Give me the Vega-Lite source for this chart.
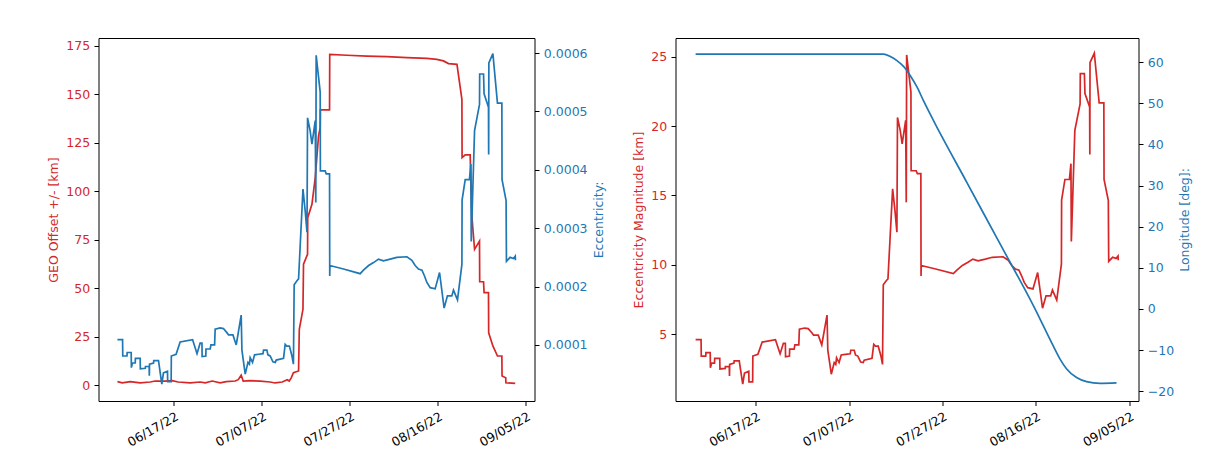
{
  "$schema": "https://vega.github.io/schema/vega-lite/v6.json",
  "background": "white",
  "padding": {"left": 46.5, "top": 37, "right": 5, "bottom": 5},
  "bounds": "flush",
  "spacing": 141,
  "config": {
    "view": {"stroke": "black", "strokeWidth": 1},
    "axis": {
      "grid": false,
      "domain": false,
      "tickColor": "black",
      "tickSize": 4.5,
      "labelPadding": 4.3,
      "labelFont": "DejaVu Sans",
      "labelFontSize": 12.5,
      "labelColor": "black",
      "titleFont": "DejaVu Sans",
      "titleFontSize": 12.5,
      "titleFontWeight": "normal",
      "titlePadding": 5
    }
  },
  "datasets": {
    "ecc": [
      {"t": "2022-06-04T04:00", "ecc": 0.000109, "mag": 4.60},
      {"t": "2022-06-05T08:00", "ecc": 0.000109, "mag": 4.60},
      {"t": "2022-06-05T09:00", "ecc": 0.000081, "mag": 3.42},
      {"t": "2022-06-06T08:00", "ecc": 0.000081, "mag": 3.42},
      {"t": "2022-06-06T09:00", "ecc": 0.000087, "mag": 3.67},
      {"t": "2022-06-07T07:00", "ecc": 0.000087, "mag": 3.67},
      {"t": "2022-06-07T08:00", "ecc": 0.000061, "mag": 2.57},
      {"t": "2022-06-07T14:00", "ecc": 0.000069, "mag": 2.91},
      {"t": "2022-06-08T05:00", "ecc": 0.000069, "mag": 2.91},
      {"t": "2022-06-08T06:00", "ecc": 0.000077, "mag": 3.25},
      {"t": "2022-06-09T08:00", "ecc": 0.000077, "mag": 3.25},
      {"t": "2022-06-09T09:00", "ecc": 0.000059, "mag": 2.49},
      {"t": "2022-06-10T12:00", "ecc": 0.000060, "mag": 2.53},
      {"t": "2022-06-10T13:00", "ecc": 0.000063, "mag": 2.66},
      {"t": "2022-06-11T09:00", "ecc": 0.000063, "mag": 2.66},
      {"t": "2022-06-11T10:00", "ecc": 0.000047, "mag": 1.98},
      {"t": "2022-06-11T11:00", "ecc": 0.000067, "mag": 2.82},
      {"t": "2022-06-12T09:00", "ecc": 0.000069, "mag": 2.91},
      {"t": "2022-06-12T10:00", "ecc": 0.000073, "mag": 3.08},
      {"t": "2022-06-13T12:00", "ecc": 0.000073, "mag": 3.08},
      {"t": "2022-06-14T06:00", "ecc": 0.000033, "mag": 1.39},
      {"t": "2022-06-14T15:00", "ecc": 0.000052, "mag": 2.19},
      {"t": "2022-06-15T13:00", "ecc": 0.000055, "mag": 2.32},
      {"t": "2022-06-15T14:00", "ecc": 0.000037, "mag": 1.56},
      {"t": "2022-06-16T09:00", "ecc": 0.000037, "mag": 1.56},
      {"t": "2022-06-16T10:00", "ecc": 0.000081, "mag": 3.42},
      {"t": "2022-06-17T12:00", "ecc": 0.000084, "mag": 3.54},
      {"t": "2022-06-18T10:00", "ecc": 0.000105, "mag": 4.43},
      {"t": "2022-06-21T06:00", "ecc": 0.000109, "mag": 4.60},
      {"t": "2022-06-22T06:00", "ecc": 0.000085, "mag": 3.58},
      {"t": "2022-06-22T23:00", "ecc": 0.000103, "mag": 4.34},
      {"t": "2022-06-23T09:00", "ecc": 0.000103, "mag": 4.34},
      {"t": "2022-06-23T10:00", "ecc": 0.000080, "mag": 3.37},
      {"t": "2022-06-24T06:00", "ecc": 0.000081, "mag": 3.42},
      {"t": "2022-06-24T07:00", "ecc": 0.000093, "mag": 3.92},
      {"t": "2022-06-25T06:00", "ecc": 0.000093, "mag": 3.92},
      {"t": "2022-06-25T10:00", "ecc": 0.000100, "mag": 4.22},
      {"t": "2022-06-26T06:00", "ecc": 0.000100, "mag": 4.22},
      {"t": "2022-06-26T09:00", "ecc": 0.000127, "mag": 5.35},
      {"t": "2022-06-27T12:00", "ecc": 0.000129, "mag": 5.44},
      {"t": "2022-06-28T06:00", "ecc": 0.000128, "mag": 5.40},
      {"t": "2022-06-29T01:00", "ecc": 0.000121, "mag": 5.10},
      {"t": "2022-06-29T10:00", "ecc": 0.000117, "mag": 4.93},
      {"t": "2022-06-30T10:00", "ecc": 0.000117, "mag": 4.93},
      {"t": "2022-07-01T04:00", "ecc": 0.000100, "mag": 4.22},
      {"t": "2022-07-02T07:00", "ecc": 0.000151, "mag": 6.37},
      {"t": "2022-07-02T11:00", "ecc": 0.000091, "mag": 3.84},
      {"t": "2022-07-03T05:00", "ecc": 0.000050, "mag": 2.11},
      {"t": "2022-07-03T20:00", "ecc": 0.000070, "mag": 2.95},
      {"t": "2022-07-04T04:00", "ecc": 0.000067, "mag": 2.82},
      {"t": "2022-07-04T08:00", "ecc": 0.000078, "mag": 3.29},
      {"t": "2022-07-04T21:00", "ecc": 0.000070, "mag": 2.95},
      {"t": "2022-07-05T08:00", "ecc": 0.000083, "mag": 3.50},
      {"t": "2022-07-06T06:00", "ecc": 0.000084, "mag": 3.54},
      {"t": "2022-07-07T06:00", "ecc": 0.000085, "mag": 3.58},
      {"t": "2022-07-07T09:00", "ecc": 0.000091, "mag": 3.84},
      {"t": "2022-07-08T03:00", "ecc": 0.000091, "mag": 3.84},
      {"t": "2022-07-08T09:00", "ecc": 0.000083, "mag": 3.50},
      {"t": "2022-07-08T21:00", "ecc": 0.000081, "mag": 3.42},
      {"t": "2022-07-09T12:00", "ecc": 0.000071, "mag": 2.99},
      {"t": "2022-07-10T01:00", "ecc": 0.000070, "mag": 2.95},
      {"t": "2022-07-10T06:00", "ecc": 0.000074, "mag": 3.12},
      {"t": "2022-07-11T22:00", "ecc": 0.000077, "mag": 3.25},
      {"t": "2022-07-12T07:00", "ecc": 0.000101, "mag": 4.26},
      {"t": "2022-07-12T16:00", "ecc": 0.000098, "mag": 4.13},
      {"t": "2022-07-13T06:00", "ecc": 0.000098, "mag": 4.13},
      {"t": "2022-07-13T20:00", "ecc": 0.000081, "mag": 3.42},
      {"t": "2022-07-14T04:00", "ecc": 0.000067, "mag": 2.82},
      {"t": "2022-07-14T08:00", "ecc": 0.000203, "mag": 8.56},
      {"t": "2022-07-14T23:00", "ecc": 0.000210, "mag": 8.85},
      {"t": "2022-07-15T08:00", "ecc": 0.000213, "mag": 8.98},
      {"t": "2022-07-16T08:00", "ecc": 0.000367, "mag": 15.47},
      {"t": "2022-07-16T20:00", "ecc": 0.000330, "mag": 13.91},
      {"t": "2022-07-17T06:00", "ecc": 0.000293, "mag": 12.35},
      {"t": "2022-07-17T09:00", "ecc": 0.000489, "mag": 20.62},
      {"t": "2022-07-17T23:00", "ecc": 0.000467, "mag": 19.69},
      {"t": "2022-07-18T09:00", "ecc": 0.000444, "mag": 18.72},
      {"t": "2022-07-19T03:00", "ecc": 0.000484, "mag": 20.41},
      {"t": "2022-07-19T06:00", "ecc": 0.000344, "mag": 14.50},
      {"t": "2022-07-19T08:00", "ecc": 0.000596, "mag": 25.13},
      {"t": "2022-07-20T06:00", "ecc": 0.000533, "mag": 22.47},
      {"t": "2022-07-20T07:00", "ecc": 0.000398, "mag": 16.78},
      {"t": "2022-07-21T09:00", "ecc": 0.000398, "mag": 16.78},
      {"t": "2022-07-21T15:00", "ecc": 0.000393, "mag": 16.57},
      {"t": "2022-07-22T09:00", "ecc": 0.000393, "mag": 16.57},
      {"t": "2022-07-22T10:00", "ecc": 0.000218, "mag": 9.19},
      {"t": "2022-07-22T11:00", "ecc": 0.000236, "mag": 9.95},
      {"t": "2022-07-25T13:00", "ecc": 0.000230, "mag": 9.70},
      {"t": "2022-07-29T08:00", "ecc": 0.000222, "mag": 9.36},
      {"t": "2022-07-30T02:00", "ecc": 0.000228, "mag": 9.61},
      {"t": "2022-07-31T06:00", "ecc": 0.000236, "mag": 9.95},
      {"t": "2022-08-01T09:00", "ecc": 0.000241, "mag": 10.16},
      {"t": "2022-08-02T12:00", "ecc": 0.000247, "mag": 10.41},
      {"t": "2022-08-03T15:00", "ecc": 0.000244, "mag": 10.29},
      {"t": "2022-08-05T04:00", "ecc": 0.000247, "mag": 10.41},
      {"t": "2022-08-06T16:00", "ecc": 0.000250, "mag": 10.54},
      {"t": "2022-08-08T23:00", "ecc": 0.000251, "mag": 10.58},
      {"t": "2022-08-10T02:00", "ecc": 0.000245, "mag": 10.33},
      {"t": "2022-08-10T20:00", "ecc": 0.000236, "mag": 9.95},
      {"t": "2022-08-11T14:00", "ecc": 0.000230, "mag": 9.70},
      {"t": "2022-08-12T09:00", "ecc": 0.000228, "mag": 9.61},
      {"t": "2022-08-12T23:00", "ecc": 0.000218, "mag": 9.19},
      {"t": "2022-08-13T12:00", "ecc": 0.000207, "mag": 8.73},
      {"t": "2022-08-14T06:00", "ecc": 0.000198, "mag": 8.35},
      {"t": "2022-08-15T09:00", "ecc": 0.000196, "mag": 8.26},
      {"t": "2022-08-16T09:00", "ecc": 0.000224, "mag": 9.44},
      {"t": "2022-08-17T10:00", "ecc": 0.000163, "mag": 6.87},
      {"t": "2022-08-18T04:00", "ecc": 0.000184, "mag": 7.76},
      {"t": "2022-08-19T04:00", "ecc": 0.000184, "mag": 7.76},
      {"t": "2022-08-19T13:00", "ecc": 0.000194, "mag": 8.18},
      {"t": "2022-08-19T22:00", "ecc": 0.000187, "mag": 7.88},
      {"t": "2022-08-20T11:00", "ecc": 0.000177, "mag": 7.46},
      {"t": "2022-08-21T11:00", "ecc": 0.000238, "mag": 10.04},
      {"t": "2022-08-21T12:00", "ecc": 0.000348, "mag": 14.67},
      {"t": "2022-08-22T05:00", "ecc": 0.000383, "mag": 16.15},
      {"t": "2022-08-23T04:00", "ecc": 0.000383, "mag": 16.15},
      {"t": "2022-08-23T12:00", "ecc": 0.000410, "mag": 17.29},
      {"t": "2022-08-23T14:00", "ecc": 0.000277, "mag": 11.68},
      {"t": "2022-08-24T08:00", "ecc": 0.000467, "mag": 19.69},
      {"t": "2022-08-25T11:00", "ecc": 0.000512, "mag": 21.59},
      {"t": "2022-08-25T12:00", "ecc": 0.000564, "mag": 23.78},
      {"t": "2022-08-26T09:00", "ecc": 0.000564, "mag": 23.78},
      {"t": "2022-08-26T12:00", "ecc": 0.000530, "mag": 22.35},
      {"t": "2022-08-27T12:00", "ecc": 0.000507, "mag": 21.38},
      {"t": "2022-08-27T13:00", "ecc": 0.000426, "mag": 17.96},
      {"t": "2022-08-27T14:00", "ecc": 0.000583, "mag": 24.58},
      {"t": "2022-08-28T12:00", "ecc": 0.000599, "mag": 25.26},
      {"t": "2022-08-29T13:00", "ecc": 0.000514, "mag": 21.67},
      {"t": "2022-08-30T13:00", "ecc": 0.000514, "mag": 21.67},
      {"t": "2022-08-30T14:00", "ecc": 0.000383, "mag": 16.15},
      {"t": "2022-08-31T12:00", "ecc": 0.000347, "mag": 14.63},
      {"t": "2022-08-31T14:00", "ecc": 0.000243, "mag": 10.25},
      {"t": "2022-09-01T10:00", "ecc": 0.000250, "mag": 10.54},
      {"t": "2022-09-02T04:00", "ecc": 0.000248, "mag": 10.46},
      {"t": "2022-09-02T14:00", "ecc": 0.000252, "mag": 10.63},
      {"t": "2022-09-02T15:00", "ecc": 0.000245, "mag": 10.33}
    ],
    "geo": [
      {"t": "2022-06-04T04:00", "offset": 1.9},
      {"t": "2022-06-05T06:00", "offset": 1.3},
      {"t": "2022-06-07T02:00", "offset": 1.9},
      {"t": "2022-06-09T08:00", "offset": 1.3},
      {"t": "2022-06-11T15:00", "offset": 1.7},
      {"t": "2022-06-12T18:00", "offset": 2.2},
      {"t": "2022-06-15T00:00", "offset": 2.1},
      {"t": "2022-06-16T15:00", "offset": 2.4},
      {"t": "2022-06-17T23:00", "offset": 1.7},
      {"t": "2022-06-20T17:00", "offset": 1.2},
      {"t": "2022-06-22T23:00", "offset": 1.7},
      {"t": "2022-06-24T03:00", "offset": 1.3},
      {"t": "2022-06-25T17:00", "offset": 2.2},
      {"t": "2022-06-27T12:00", "offset": 1.3},
      {"t": "2022-06-28T21:00", "offset": 1.9},
      {"t": "2022-06-30T22:00", "offset": 2.2},
      {"t": "2022-07-01T15:00", "offset": 2.9},
      {"t": "2022-07-02T07:00", "offset": 5.2},
      {"t": "2022-07-02T18:00", "offset": 2.2},
      {"t": "2022-07-04T08:00", "offset": 2.4},
      {"t": "2022-07-06T15:00", "offset": 2.1},
      {"t": "2022-07-08T21:00", "offset": 1.7},
      {"t": "2022-07-10T00:00", "offset": 1.2},
      {"t": "2022-07-11T15:00", "offset": 1.7},
      {"t": "2022-07-12T18:00", "offset": 2.9},
      {"t": "2022-07-13T05:00", "offset": 2.2},
      {"t": "2022-07-13T16:00", "offset": 3.8},
      {"t": "2022-07-14T04:00", "offset": 6.5},
      {"t": "2022-07-15T08:00", "offset": 7.4},
      {"t": "2022-07-15T12:00", "offset": 28.9},
      {"t": "2022-07-16T08:00", "offset": 39.2},
      {"t": "2022-07-16T11:00", "offset": 62.4},
      {"t": "2022-07-17T09:00", "offset": 67.6},
      {"t": "2022-07-17T10:00", "offset": 86.4},
      {"t": "2022-07-18T09:00", "offset": 93.3},
      {"t": "2022-07-19T03:00", "offset": 107.1},
      {"t": "2022-07-19T21:00", "offset": 128.6},
      {"t": "2022-07-20T06:00", "offset": 132.9},
      {"t": "2022-07-20T07:00", "offset": 142.0},
      {"t": "2022-07-22T09:00", "offset": 142.0},
      {"t": "2022-07-22T10:00", "offset": 170.7},
      {"t": "2022-07-26T08:00", "offset": 170.2},
      {"t": "2022-07-30T21:00", "offset": 169.8},
      {"t": "2022-08-04T10:00", "offset": 169.5},
      {"t": "2022-08-08T23:00", "offset": 169.0},
      {"t": "2022-08-13T12:00", "offset": 168.6},
      {"t": "2022-08-15T18:00", "offset": 168.1},
      {"t": "2022-08-17T06:00", "offset": 167.3},
      {"t": "2022-08-18T10:00", "offset": 165.9},
      {"t": "2022-08-20T08:00", "offset": 165.5},
      {"t": "2022-08-21T11:00", "offset": 147.5},
      {"t": "2022-08-21T12:00", "offset": 117.4},
      {"t": "2022-08-22T05:00", "offset": 118.8},
      {"t": "2022-08-23T08:00", "offset": 118.8},
      {"t": "2022-08-23T18:00", "offset": 86.4},
      {"t": "2022-08-24T08:00", "offset": 70.1},
      {"t": "2022-08-25T11:00", "offset": 74.4},
      {"t": "2022-08-25T12:00", "offset": 53.4},
      {"t": "2022-08-26T09:00", "offset": 53.4},
      {"t": "2022-08-26T12:00", "offset": 47.8},
      {"t": "2022-08-27T12:00", "offset": 47.8},
      {"t": "2022-08-27T13:00", "offset": 27.1},
      {"t": "2022-08-28T12:00", "offset": 20.3},
      {"t": "2022-08-29T13:00", "offset": 15.1},
      {"t": "2022-08-30T13:00", "offset": 15.1},
      {"t": "2022-08-30T14:00", "offset": 4.8},
      {"t": "2022-08-31T10:00", "offset": 3.9},
      {"t": "2022-08-31T11:00", "offset": 1.3},
      {"t": "2022-09-02T14:00", "offset": 1.0}
    ],
    "lon": [
      {"t": "2022-06-04T04:00", "lon": 62.0},
      {"t": "2022-07-14T09:00", "lon": 62.0},
      {"t": "2022-07-15T20:00", "lon": 61.4},
      {"t": "2022-07-17T06:00", "lon": 60.4},
      {"t": "2022-07-18T16:00", "lon": 59.0},
      {"t": "2022-07-20T02:00", "lon": 56.8},
      {"t": "2022-07-21T13:00", "lon": 54.0},
      {"t": "2022-07-22T23:00", "lon": 50.6},
      {"t": "2022-07-25T02:00", "lon": 45.8},
      {"t": "2022-08-01T05:00", "lon": 30.8},
      {"t": "2022-08-08T08:00", "lon": 15.8},
      {"t": "2022-08-15T11:00", "lon": 0.8},
      {"t": "2022-08-19T17:00", "lon": -9.0},
      {"t": "2022-08-21T04:00", "lon": -12.2},
      {"t": "2022-08-22T14:00", "lon": -14.6},
      {"t": "2022-08-24T17:00", "lon": -16.7},
      {"t": "2022-08-26T20:00", "lon": -17.7},
      {"t": "2022-08-29T17:00", "lon": -18.1},
      {"t": "2022-09-02T06:00", "lon": -18.0}
    ]
  },
  "hconcat": [
    {
      "width": 436,
      "height": 363,
      "encoding": {
        "x": {
          "field": "t",
          "type": "temporal",
          "scale": {"domain": [{"year": 2022, "month": 5, "date": 30, "hours": 20, "minutes": 40}, {"year": 2022, "month": 9, "date": 6, "hours": 23}]},
          "axis": {
            "title": null,
            "format": "%m/%d/%y",
            "values": [{"year": 2022, "month": 6, "date": 17}, {"year": 2022, "month": 7, "date": 7}, {"year": 2022, "month": 7, "date": 27}, {"year": 2022, "month": 8, "date": 16}, {"year": 2022, "month": 9, "date": 5}],
            "labelAngle": -30,
            "labelAlign": "right",
            "labelBaseline": "top"
          }
        }
      },
      "layer": [
        {
          "data": {"name": "geo"},
          "mark": {"type": "line", "color": "#d62728", "strokeWidth": 1.7},
          "encoding": {
            "y": {
              "field": "offset",
              "type": "quantitative",
              "scale": {"domain": [-8.1, 179.1], "nice": false, "zero": false},
              "axis": {
                "title": "GEO Offset +/- [km]",
                "values": [0, 25, 50, 75, 100, 125, 150, 175],
                "labelColor": "#d62728",
                "titleColor": "#d62728"
              }
            }
          }
        },
        {
          "data": {"name": "ecc"},
          "mark": {"type": "line", "color": "#1f77b4", "strokeWidth": 1.7},
          "encoding": {
            "y": {
              "field": "ecc",
              "type": "quantitative",
              "scale": {"domain": [0.0000039, 0.0006257], "nice": false, "zero": false},
              "axis": {
                "orient": "right",
                "title": "Eccentricity:",
                "format": ".4f",
                "values": [0.0001, 0.0002, 0.0003, 0.0004, 0.0005, 0.0006],
                "labelColor": "#1f77b4",
                "titleColor": "#1f77b4",
                "titleAngle": 270,
                "titleBaseline": "top"
              }
            }
          }
        }
      ],
      "resolve": {"scale": {"y": "independent"}}
    },
    {
      "width": 463,
      "height": 363,
      "encoding": {
        "x": {
          "field": "t",
          "type": "temporal",
          "scale": {"domain": [{"year": 2022, "month": 5, "date": 30, "hours": 20, "minutes": 40}, {"year": 2022, "month": 9, "date": 6, "hours": 23}]},
          "axis": {
            "title": null,
            "format": "%m/%d/%y",
            "values": [{"year": 2022, "month": 6, "date": 17}, {"year": 2022, "month": 7, "date": 7}, {"year": 2022, "month": 7, "date": 27}, {"year": 2022, "month": 8, "date": 16}, {"year": 2022, "month": 9, "date": 5}],
            "labelAngle": -30,
            "labelAlign": "right",
            "labelBaseline": "top"
          }
        }
      },
      "layer": [
        {
          "data": {"name": "ecc"},
          "mark": {"type": "line", "color": "#d62728", "strokeWidth": 1.7},
          "encoding": {
            "y": {
              "field": "mag",
              "type": "quantitative",
              "scale": {"domain": [0.18, 26.35], "nice": false, "zero": false},
              "axis": {
                "title": "Eccentricity Magnitude [km]",
                "values": [5, 10, 15, 20, 25],
                "labelColor": "#d62728",
                "titleColor": "#d62728"
              }
            }
          }
        },
        {
          "data": {"name": "lon"},
          "mark": {"type": "line", "color": "#1f77b4", "strokeWidth": 1.7, "interpolate": "monotone"},
          "encoding": {
            "y": {
              "field": "lon",
              "type": "quantitative",
              "scale": {"domain": [-22.4, 65.9], "nice": false, "zero": false},
              "axis": {
                "orient": "right",
                "title": "Longitude [deg]:",
                "values": [-20, -10, 0, 10, 20, 30, 40, 50, 60],
                "labelColor": "#1f77b4",
                "titleColor": "#1f77b4",
                "titleAngle": 270,
                "titleBaseline": "top"
              }
            }
          }
        }
      ],
      "resolve": {"scale": {"y": "independent"}}
    }
  ]
}
